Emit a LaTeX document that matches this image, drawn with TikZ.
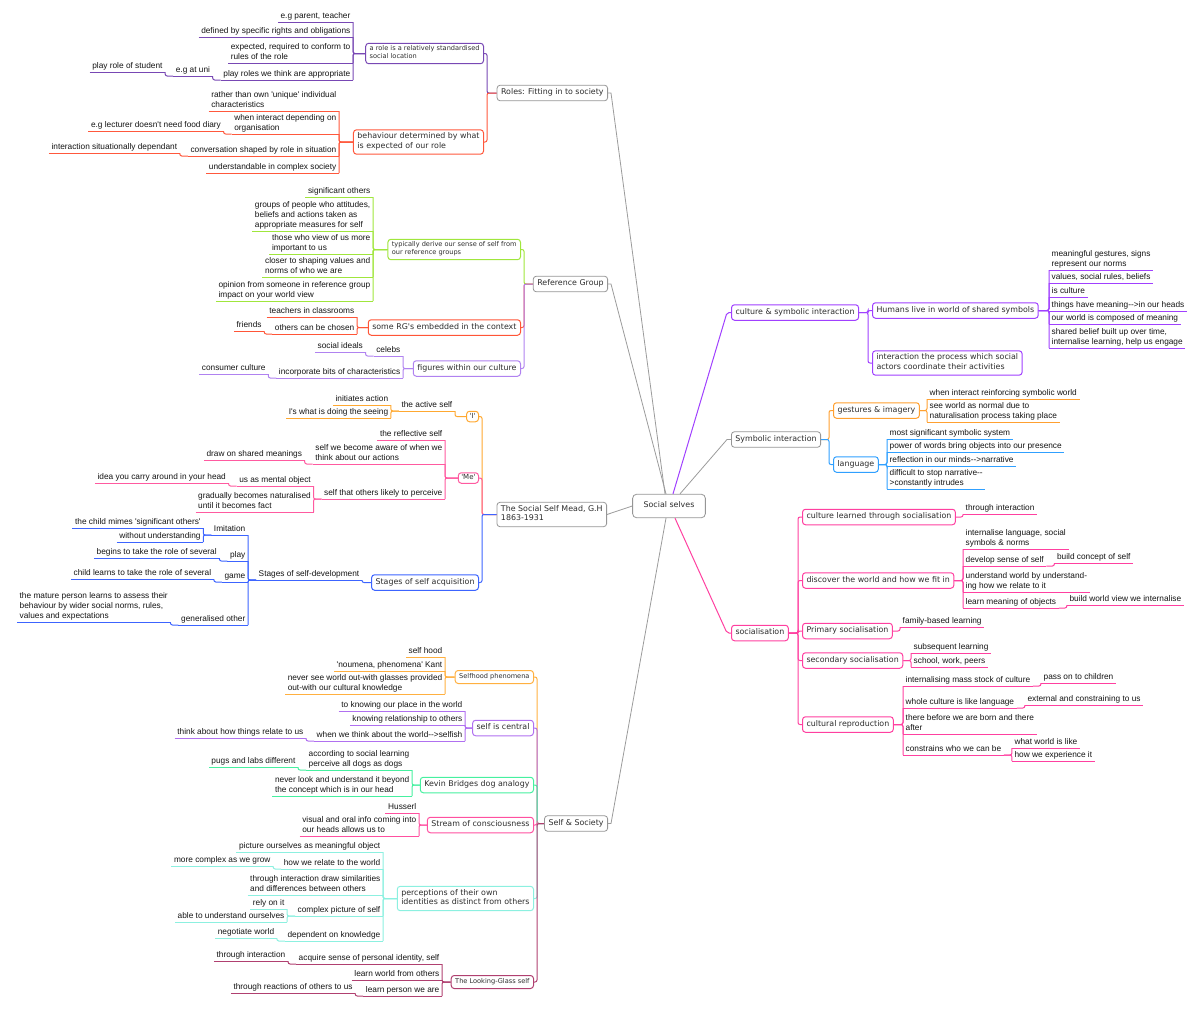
\documentclass[tikz,border=0pt]{standalone}
\usepackage{fontspec}
\usepackage{tikz}
\usetikzlibrary{calc}
\newfontfamily\leaffont{Liberation Sans}
\newfontfamily\topicfont{DejaVu Sans}

\definecolor{topicgray}{RGB}{150,150,150}
\definecolor{linegray}{RGB}{155,155,155}
\definecolor{leaftext}{RGB}{20,20,20}
\definecolor{topictext}{RGB}{45,45,45}
\definecolor{rolepurple}{RGB}{120,72,180}
\definecolor{rolered}{RGB}{255,88,60}
\definecolor{refgreen}{RGB}{160,230,60}
\definecolor{refred}{RGB}{255,85,55}
\definecolor{refpurple}{RGB}{176,130,240}
\definecolor{meadorange}{RGB}{255,168,48}
\definecolor{meadpink}{RGB}{255,90,160}
\definecolor{meadblue}{RGB}{60,100,255}
\definecolor{selforange}{RGB}{255,176,64}
\definecolor{selfpurple}{RGB}{176,112,240}
\definecolor{selfgreen}{RGB}{70,240,160}
\definecolor{selfpink}{RGB}{255,80,160}
\definecolor{selfcyan}{RGB}{140,240,224}
\definecolor{selfmaroon}{RGB}{176,64,112}
\definecolor{culturepurple}{RGB}{160,64,255}
\definecolor{symorange}{RGB}{255,160,48}
\definecolor{symblue}{RGB}{48,160,255}
\definecolor{socpink}{RGB}{255,64,160}

\tikzset{
  topic/.style={draw=topicgray, line width=0.8pt, rounded corners=3pt, fill=white, text=topictext,
    inner xsep=4pt, inner ysep=3pt, align=left, font=\topicfont\fontsize{7.9}{9.5}\selectfont,
    execute at begin node=\strut, execute at end node=\strut},
  centre/.style={topic, inner xsep=11pt, inner ysep=7pt, rounded corners=4pt},
  sub/.style={topic, draw=#1, line width=1pt},
  subsmall/.style={sub=#1, inner ysep=2.5pt, font=\topicfont\fontsize{6.6}{8}\selectfont},
  tag/.style={sub=#1, inner xsep=3pt, inner ysep=1pt, font=\topicfont\fontsize{7}{8.5}\selectfont},
  leaf/.style={inner xsep=2.5pt, inner ysep=1pt, align=left, text=leaftext,
    font=\leaffont\fontsize{8.3}{10}\selectfont, execute at end node={\vrule width 0pt depth 1.9pt},
    append after command={(\tikzlastnode.south west) edge[draw=#1, line width=1pt] (\tikzlastnode.south east)}},
  lleaf/.style={leaf=#1, anchor=south east},
  rleaf/.style={leaf=#1, anchor=south west},
  link/.style={draw=#1, line width=1pt, rounded corners=2pt},
  mainlink/.style={draw=linegray, line width=0.8pt},
}

\begin{document}
\begin{tikzpicture}[x=1pt,y=1pt,yscale=-1]
\useasboundingbox (0,0) rectangle (1200,1012);

% Central topic
\node[centre] (ss) at (669,506) {Social selves};

% Main topics
\node[topic, anchor=east] (roles) at (608,93) {Roles: Fitting in to society};
\node[topic, anchor=east] (refgrp) at (608,284) {Reference Group};
\node[topic, anchor=east] (mead) at (607,514.5) {The Social Self Mead, G.H\\1863-1931};
\node[topic, anchor=east] (selfsoc) at (608,823.5) {Self \& Society};
\node[sub=culturepurple, anchor=west] (culture) at (731,312.5) {culture \& symbolic interaction};
\node[topic, anchor=west] (symint) at (731,439.5) {Symbolic interaction};
\node[sub=socpink, anchor=west] (socl) at (731,633) {socialisation};

\draw[mainlink] (roles.east) -- ++(3,0) -- ($(ss.north)+(-4,0)$);
\draw[mainlink] (refgrp.east) -- ++(3,0) -- ($(ss.north)+(-3,0)$);
\draw[mainlink] (mead.east) -- (ss.west);
\draw[mainlink] (selfsoc.east) -- ++(3,0) -- ($(ss.south)+(-3,0)$);
\draw[link=culturepurple] ($(ss.north)+(4,0)$) -- ($(culture.west)+(-4,0)$) -- (culture.west);
\draw[mainlink] ($(ss.north)+(11,0)$) -- ($(symint.west)+(-4,0)$) -- (symint.west);
\draw[link=socpink] ($(ss.south)+(6,0)$) -- ($(socl.west)+(-4,0)$) -- (socl.west);

% Roles
\node[subsmall=rolepurple, anchor=east] (role1) at (484,53.5) {a role is a relatively standardised\\social location};
\node[sub=rolered, anchor=east] (role2) at (484,142) {behaviour determined by what\\is expected of our role};
\draw[link=rolepurple] (roles.west) -| ($(role1.east)+(3,0)$) -- (role1.east);
\draw[link=rolered] (roles.west) -| ($(role2.east)+(3,0)$) -- (role2.east);

\node[lleaf=rolepurple] (r1a) at (353,22) {e.g parent, teacher};
\node[lleaf=rolepurple] (r1b) at (353,37) {defined by specific rights and obligations};
\node[lleaf=rolepurple] (r1c) at (353,63) {expected, required to conform to\\rules of the role};
\node[lleaf=rolepurple] (r1d) at (353,80) {play roles we think are appropriate};
\node[lleaf=rolepurple] (r1e) at ($(r1d.south west)+(-8,-4)$) {e.g at uni};
\node[lleaf=rolepurple] (r1f) at ($(r1e.south west)+(-8,-4)$) {play role of student};
\draw[link=rolepurple] (role1.west) -| (r1a.south east);
\draw[link=rolepurple] (role1.west) -| (r1b.south east);
\draw[link=rolepurple] (role1.west) -| (r1c.south east);
\draw[link=rolepurple] (role1.west) -| (r1d.south east);
\draw[link=rolepurple] (r1d.south west) -| (r1e.south east);
\draw[link=rolepurple] (r1e.south west) -| (r1f.south east);

\node[lleaf=rolered] (r2a) at (339,111) {rather than own 'unique' individual\\characteristics};
\node[lleaf=rolered] (r2b) at (339,134) {when interact depending on\\organisation};
\node[lleaf=rolered] (r2c) at (339,156) {conversation shaped by role in situation};
\node[lleaf=rolered] (r2d) at (339,173) {understandable in complex society};
\node[lleaf=rolered] (r2e) at ($(r2b.south west)+(-8,-3)$) {e.g lecturer doesn't need food diary};
\node[lleaf=rolered] (r2f) at ($(r2c.south west)+(-8,-3)$) {interaction situationally dependant};
\draw[link=rolered] (role2.west) -| (r2a.south east);
\draw[link=rolered] (role2.west) -| (r2b.south east);
\draw[link=rolered] (role2.west) -| (r2c.south east);
\draw[link=rolered] (role2.west) -| (r2d.south east);
\draw[link=rolered] (r2b.south west) -| (r2e.south east);
\draw[link=rolered] (r2c.south west) -| (r2f.south east);

% Reference group
\node[subsmall=refgreen, anchor=east] (ref1) at (521,249.5) {typically derive our sense of self from\\our reference groups};
\node[sub=refred, anchor=east] (ref2) at (521,327.5) {some RG's embedded in the context};
\node[sub=refpurple, anchor=east] (ref3) at (521,368.5) {figures within our culture};
\draw[link=refgreen] (refgrp.west) -| ($(ref1.east)+(3,0)$) -- (ref1.east);
\draw[link=refred] (refgrp.west) -| ($(ref2.east)+(3,0)$) -- (ref2.east);
\draw[link=refpurple] (refgrp.west) -| ($(ref3.east)+(3,0)$) -- (ref3.east);

\node[lleaf=refgreen] (g1) at (373,197) {significant others};
\node[lleaf=refgreen] (g2) at (373,231) {groups of people who attitudes,\\beliefs and actions taken as\\appropriate measures for self};
\node[lleaf=refgreen] (g3) at (373,254) {those who view of us more\\important to us};
\node[lleaf=refgreen] (g4) at (373,277) {closer to shaping values and\\norms of who we are};
\node[lleaf=refgreen] (g5) at (373,301) {opinion from someone in reference group\\impact on your world view};
\draw[link=refgreen] (ref1.west) -| (g1.south east);
\draw[link=refgreen] (ref1.west) -| (g2.south east);
\draw[link=refgreen] (ref1.west) -| (g3.south east);
\draw[link=refgreen] (ref1.west) -| (g4.south east);
\draw[link=refgreen] (ref1.west) -| (g5.south east);

\node[lleaf=refred] (e1) at (357,317) {teachers in classrooms};
\node[lleaf=refred] (e2) at (357,334) {others can be chosen};
\node[lleaf=refred] (e3) at ($(e2.south west)+(-8,-3)$) {friends};
\draw[link=refred] (ref2.west) -| (e1.south east);
\draw[link=refred] (ref2.west) -| (e2.south east);
\draw[link=refred] (e2.south west) -| (e3.south east);

\node[lleaf=refpurple] (p1) at (403,356) {celebs};
\node[lleaf=refpurple] (p2) at ($(p1.south west)+(-8,-4)$) {social ideals};
\node[lleaf=refpurple] (p3) at (403,378) {incorporate bits of characteristics};
\node[lleaf=refpurple] (p4) at ($(p3.south west)+(-8,-4)$) {consumer culture};
\draw[link=refpurple] (ref3.west) -| (p1.south east);
\draw[link=refpurple] (ref3.west) -| (p3.south east);
\draw[link=refpurple] (p1.south west) -| (p2.south east);
\draw[link=refpurple] (p3.south west) -| (p4.south east);

% Social self, Mead
\node[tag=meadorange, anchor=east] (meI) at (479,416.5) {'I'};
\node[tag=meadpink, anchor=east] (meMe) at (479,478) {'Me'};
\node[sub=meadblue, anchor=east] (stages) at (479,582.5) {Stages of self acquisition};
\draw[link=meadorange] (mead.west) -| ($(meI.east)+(3,0)$) -- (meI.east);
\draw[link=meadpink] (mead.west) -| ($(meMe.east)+(3,0)$) -- (meMe.east);
\draw[link=meadblue] (mead.west) -| ($(stages.east)+(3,0)$) -- (stages.east);

\node[lleaf=meadorange] (a1) at (455,411) {the active self};
\node[lleaf=meadorange] (a2) at ($(a1.south west)+(-8,-6)$) {initiates action};
\node[lleaf=meadorange] (a3) at ($(a1.south west)+(-8,7)$) {I's what is doing the seeing};
\draw[link=meadorange] (meI.west) -| (a1.south east);
\draw[link=meadorange] (a1.south west) -| (a2.south east);
\draw[link=meadorange] (a1.south west) -| (a3.south east);

\node[lleaf=meadpink] (m1) at (445,440) {the reflective self};
\node[lleaf=meadpink] (m2) at (445,464) {self we become aware of when we\\think about our actions};
\node[lleaf=meadpink] (m2a) at ($(m2.south west)+(-8,-4)$) {draw on shared meanings};
\node[lleaf=meadpink] (m3) at (445,499) {self that others likely to perceive};
\node[lleaf=meadpink] (m3a) at ($(m3.south west)+(-8,-13)$) {us as mental object};
\node[lleaf=meadpink] (m3b) at ($(m3a.south west)+(-8,-3)$) {idea you carry around in your head};
\node[lleaf=meadpink] (m3c) at ($(m3.south west)+(-8,13)$) {gradually becomes naturalised\\until it becomes fact};
\draw[link=meadpink] (meMe.west) -| (m1.south east);
\draw[link=meadpink] (meMe.west) -| (m2.south east);
\draw[link=meadpink] (meMe.west) -| (m3.south east);
\draw[link=meadpink] (m2.south west) -| (m2a.south east);
\draw[link=meadpink] (m3.south west) -| (m3a.south east);
\draw[link=meadpink] (m3a.south west) -| (m3b.south east);
\draw[link=meadpink] (m3.south west) -| (m3c.south east);

\node[lleaf=meadblue] (s0) at (362,580) {Stages of self-development};
\node[lleaf=meadblue] (s1) at ($(s0.south west)+(-8,-45)$) {Imitation};
\node[lleaf=meadblue] (s1a) at ($(s1.south west)+(-8,-7)$) {the child mimes 'significant others'};
\node[lleaf=meadblue] (s1b) at ($(s1.south west)+(-8,7)$) {without understanding};
\node[lleaf=meadblue] (s2) at ($(s0.south west)+(-8,-19)$) {play};
\node[lleaf=meadblue] (s2a) at ($(s2.south west)+(-8,-3)$) {begins to take the role of several};
\node[lleaf=meadblue] (s3) at ($(s0.south west)+(-8,2)$) {game};
\node[lleaf=meadblue] (s3a) at ($(s3.south west)+(-8,-3)$) {child learns to take the role of several};
\node[lleaf=meadblue] (s4) at ($(s0.south west)+(-8,45)$) {generalised other};
\node[lleaf=meadblue] (s4a) at ($(s4.south west)+(-8,-3)$) {the mature person learns to assess their\\behaviour by wider social norms, rules,\\values and expectations};
\draw[link=meadblue] (stages.west) -| (s0.south east);
\draw[link=meadblue] (s0.south west) -| (s1.south east);
\draw[link=meadblue] (s0.south west) -| (s2.south east);
\draw[link=meadblue] (s0.south west) -| (s3.south east);
\draw[link=meadblue] (s0.south west) -| (s4.south east);
\draw[link=meadblue] (s1.south west) -| (s1a.south east);
\draw[link=meadblue] (s1.south west) -| (s1b.south east);
\draw[link=meadblue] (s2.south west) -| (s2a.south east);
\draw[link=meadblue] (s3.south west) -| (s3a.south east);
\draw[link=meadblue] (s4.south west) -| (s4a.south east);

% Self & Society
\node[subsmall=selforange, anchor=east] (selfhood) at (534,677) {Selfhood phenomena};
\node[sub=selfpurple, anchor=east] (central) at (534,728) {self is central};
\node[sub=selfgreen, anchor=east] (kevin) at (534,785) {Kevin Bridges dog analogy};
\node[sub=selfpink, anchor=east] (stream) at (534,825) {Stream of consciousness};
\node[sub=selfcyan, anchor=east] (percep) at (534,898.5) {perceptions of their own\\identities as distinct from others};
\node[subsmall=selfmaroon, anchor=east] (glass) at (534,982) {The Looking-Glass self};
\draw[link=selforange] (selfsoc.west) -| ($(selfhood.east)+(3,0)$) -- (selfhood.east);
\draw[link=selfpurple] (selfsoc.west) -| ($(central.east)+(3,0)$) -- (central.east);
\draw[link=selfgreen] (selfsoc.west) -| ($(kevin.east)+(3,0)$) -- (kevin.east);
\draw[link=selfpink] (selfsoc.west) -| ($(stream.east)+(3,0)$) -- (stream.east);
\draw[link=selfcyan] (selfsoc.west) -| ($(percep.east)+(3,0)$) -- (percep.east);
\draw[link=selfmaroon] (selfsoc.west) -| ($(glass.east)+(3,0)$) -- (glass.east);

\node[lleaf=selforange] (h1) at (445,657) {self hood};
\node[lleaf=selforange] (h2) at (445,671) {'noumena, phenomena' Kant};
\node[lleaf=selforange] (h3) at (445,694) {never see world out-with glasses provided\\out-with our cultural knowledge};
\draw[link=selforange] (selfhood.west) -| (h1.south east);
\draw[link=selforange] (selfhood.west) -| (h2.south east);
\draw[link=selforange] (selfhood.west) -| (h3.south east);

\node[lleaf=selfpurple] (c1) at (465,711) {to knowing our place in the world};
\node[lleaf=selfpurple] (c2) at (465,725) {knowing relationship to others};
\node[lleaf=selfpurple] (c3) at (465,741) {when we think about the world-->selfish};
\node[lleaf=selfpurple] (c3a) at ($(c3.south west)+(-8,-3)$) {think about how things relate to us};
\draw[link=selfpurple] (central.west) -| (c1.south east);
\draw[link=selfpurple] (central.west) -| (c2.south east);
\draw[link=selfpurple] (central.west) -| (c3.south east);
\draw[link=selfpurple] (c3.south west) -| (c3a.south east);

\node[lleaf=selfgreen] (k1) at (412,770) {according to social learning\\perceive all dogs as dogs};
\node[lleaf=selfgreen] (k1a) at ($(k1.south west)+(-8,-3)$) {pugs and labs different};
\node[lleaf=selfgreen] (k2) at (412,796) {never look and understand it beyond\\the concept which is in our head};
\draw[link=selfgreen] (kevin.west) -| (k1.south east);
\draw[link=selfgreen] (kevin.west) -| (k2.south east);
\draw[link=selfgreen] (k1.south west) -| (k1a.south east);

\node[lleaf=selfpink] (t1) at (419,813) {Husserl};
\node[lleaf=selfpink] (t2) at (419,836) {visual and oral info coming into\\our heads allows us to};
\draw[link=selfpink] (stream.west) -| (t1.south east);
\draw[link=selfpink] (stream.west) -| (t2.south east);

\node[lleaf=selfcyan] (q1) at (383,852) {picture ourselves as meaningful object};
\node[lleaf=selfcyan] (q2) at (383,869) {how we relate to the world};
\node[lleaf=selfcyan] (q2a) at ($(q2.south west)+(-8,-3)$) {more complex as we grow};
\node[lleaf=selfcyan] (q3) at (383,895) {through interaction draw similarities\\and differences between others};
\node[lleaf=selfcyan] (q4) at (383,916) {complex picture of self};
\node[lleaf=selfcyan] (q4a) at ($(q4.south west)+(-8,-7)$) {rely on it};
\node[lleaf=selfcyan] (q4b) at ($(q4.south west)+(-8,6)$) {able to understand ourselves};
\node[lleaf=selfcyan] (q5) at (383,941) {dependent on knowledge};
\node[lleaf=selfcyan] (q5a) at ($(q5.south west)+(-8,-3)$) {negotiate world};
\draw[link=selfcyan] (percep.west) -| (q1.south east);
\draw[link=selfcyan] (percep.west) -| (q2.south east);
\draw[link=selfcyan] (percep.west) -| (q3.south east);
\draw[link=selfcyan] (percep.west) -| (q4.south east);
\draw[link=selfcyan] (percep.west) -| (q5.south east);
\draw[link=selfcyan] (q2.south west) -| (q2a.south east);
\draw[link=selfcyan] (q4.south west) -| (q4a.south east);
\draw[link=selfcyan] (q4.south west) -| (q4b.south east);
\draw[link=selfcyan] (q5.south west) -| (q5a.south east);

\node[lleaf=selfmaroon] (l1) at (442,964) {acquire sense of personal identity, self};
\node[lleaf=selfmaroon] (l1a) at ($(l1.south west)+(-8,-3)$) {through interaction};
\node[lleaf=selfmaroon] (l2) at (442,980) {learn world from others};
\node[lleaf=selfmaroon] (l3) at (442,996) {learn person we are};
\node[lleaf=selfmaroon] (l3a) at ($(l3.south west)+(-8,-3)$) {through reactions of others to us};
\draw[link=selfmaroon] (glass.west) -| (l1.south east);
\draw[link=selfmaroon] (glass.west) -| (l2.south east);
\draw[link=selfmaroon] (glass.west) -| (l3.south east);
\draw[link=selfmaroon] (l1.south west) -| (l1a.south east);
\draw[link=selfmaroon] (l3.south west) -| (l3a.south east);

% Culture & symbolic interaction
\node[sub=culturepurple, anchor=west] (humans) at (872,310.5) {Humans live in world of shared symbols};
\node[sub=culturepurple, anchor=west] (interact) at (872,363) {interaction the process which social\\actors coordinate their activities};
\draw[link=culturepurple] (culture.east) -| ($(humans.west)+(-4,0)$) -- (humans.west);
\draw[link=culturepurple] (culture.east) -| ($(interact.west)+(-4,0)$) -- (interact.west);

\node[rleaf=culturepurple] (u1) at (1049,270) {meaningful gestures, signs\\represent our norms};
\node[rleaf=culturepurple] (u2) at (1049,283) {values, social rules, beliefs};
\node[rleaf=culturepurple] (u3) at (1049,297) {is culture};
\node[rleaf=culturepurple] (u4) at (1049,311) {things have meaning-->in our heads};
\node[rleaf=culturepurple] (u5) at (1049,324) {our world is composed of meaning};
\node[rleaf=culturepurple] (u6) at (1049,348) {shared belief built up over time,\\internalise learning, help us engage};
\draw[link=culturepurple] (humans.east) -| (u1.south west);
\draw[link=culturepurple] (humans.east) -| (u2.south west);
\draw[link=culturepurple] (humans.east) -| (u3.south west);
\draw[link=culturepurple] (humans.east) -| (u4.south west);
\draw[link=culturepurple] (humans.east) -| (u5.south west);
\draw[link=culturepurple] (humans.east) -| (u6.south west);

% Symbolic interaction
\node[sub=symorange, anchor=west] (gest) at (833,410.5) {gestures \& imagery};
\node[sub=symblue, anchor=west] (lang) at (833,464.5) {language};
\draw[link=symorange] (symint.east) -| ($(gest.west)+(-4,0)$) -- (gest.west);
\draw[link=symblue] (symint.east) -| ($(lang.west)+(-4,0)$) -- (lang.west);

\node[rleaf=symorange] (v1) at (927,399) {when interact reinforcing symbolic world};
\node[rleaf=symorange] (v2) at (927,422) {see world as normal due to\\naturalisation process taking place};
\draw[link=symorange] (gest.east) -| (v1.south west);
\draw[link=symorange] (gest.east) -| (v2.south west);

\node[rleaf=symblue] (w1) at (887,439) {most significant symbolic system};
\node[rleaf=symblue] (w2) at (887,452) {power of words bring objects into our presence};
\node[rleaf=symblue] (w3) at (887,466) {reflection in our minds-->narrative};
\node[rleaf=symblue] (w4) at (887,489) {difficult to stop narrative--\\>constantly intrudes};
\draw[link=symblue] (lang.east) -| (w1.south west);
\draw[link=symblue] (lang.east) -| (w2.south west);
\draw[link=symblue] (lang.east) -| (w3.south west);
\draw[link=symblue] (lang.east) -| (w4.south west);

% Socialisation
\node[sub=socpink, anchor=west] (cultlearn) at (802,517) {culture learned through socialisation};
\node[sub=socpink, anchor=west] (discover) at (802,580.5) {discover the world and how we fit in};
\node[sub=socpink, anchor=west] (primary) at (802,631) {Primary socialisation};
\node[sub=socpink, anchor=west] (secondary) at (802,660.5) {secondary socialisation};
\node[sub=socpink, anchor=west] (reprod) at (802,724.5) {cultural reproduction};
\draw[link=socpink] (socl.east) -| ($(cultlearn.west)+(-4,0)$) -- (cultlearn.west);
\draw[link=socpink] (socl.east) -| ($(discover.west)+(-4,0)$) -- (discover.west);
\draw[link=socpink] (socl.east) -| ($(primary.west)+(-4,0)$) -- (primary.west);
\draw[link=socpink] (socl.east) -| ($(secondary.west)+(-4,0)$) -- (secondary.west);
\draw[link=socpink] (socl.east) -| ($(reprod.west)+(-4,0)$) -- (reprod.west);

\node[rleaf=socpink] (o1) at (963,514) {through interaction};
\draw[link=socpink] (cultlearn.east) -| (o1.south west);

\node[rleaf=socpink] (d1) at (963,549) {internalise language, social\\symbols \& norms};
\node[rleaf=socpink] (d2) at (963,566) {develop sense of self};
\node[rleaf=socpink] (d2a) at ($(d2.south east)+(8,-3)$) {build concept of self};
\node[rleaf=socpink] (d3) at (963,592) {understand world by understand-\\ing how we relate to it};
\node[rleaf=socpink] (d4) at (963,608) {learn meaning of objects};
\node[rleaf=socpink] (d4a) at ($(d4.south east)+(8,-3)$) {build world view we internalise};
\draw[link=socpink] (discover.east) -| (d1.south west);
\draw[link=socpink] (discover.east) -| (d2.south west);
\draw[link=socpink] (discover.east) -| (d3.south west);
\draw[link=socpink] (discover.east) -| (d4.south west);
\draw[link=socpink] (d2.south east) -| (d2a.south west);
\draw[link=socpink] (d4.south east) -| (d4a.south west);

\node[rleaf=socpink] (pr1) at (900,627) {family-based learning};
\draw[link=socpink] (primary.east) -| (pr1.south west);

\node[rleaf=socpink] (sc1) at (911,653) {subsequent learning};
\node[rleaf=socpink] (sc2) at (911,667) {school, work, peers};
\draw[link=socpink] (secondary.east) -| (sc1.south west);
\draw[link=socpink] (secondary.east) -| (sc2.south west);

\node[rleaf=socpink] (cr1) at (903,686) {internalising mass stock of culture};
\node[rleaf=socpink] (cr1a) at ($(cr1.south east)+(8,-3)$) {pass on to children};
\node[rleaf=socpink] (cr2) at (903,708) {whole culture is like language};
\node[rleaf=socpink] (cr2a) at ($(cr2.south east)+(8,-3)$) {external and constraining to us};
\node[rleaf=socpink] (cr3) at (903,734) {there before we are born and there\\after};
\node[rleaf=socpink] (cr4) at (903,755) {constrains who we can be};
\node[rleaf=socpink] (cr4a) at ($(cr4.south east)+(8,-7)$) {what world is like};
\node[rleaf=socpink] (cr4b) at ($(cr4.south east)+(8,6)$) {how we experience it};
\draw[link=socpink] (reprod.east) -| (cr1.south west);
\draw[link=socpink] (reprod.east) -| (cr2.south west);
\draw[link=socpink] (reprod.east) -| (cr3.south west);
\draw[link=socpink] (reprod.east) -| (cr4.south west);
\draw[link=socpink] (cr1.south east) -| (cr1a.south west);
\draw[link=socpink] (cr2.south east) -| (cr2a.south west);
\draw[link=socpink] (cr4.south east) -| (cr4a.south west);
\draw[link=socpink] (cr4.south east) -| (cr4b.south west);

\end{tikzpicture}
\end{document}
